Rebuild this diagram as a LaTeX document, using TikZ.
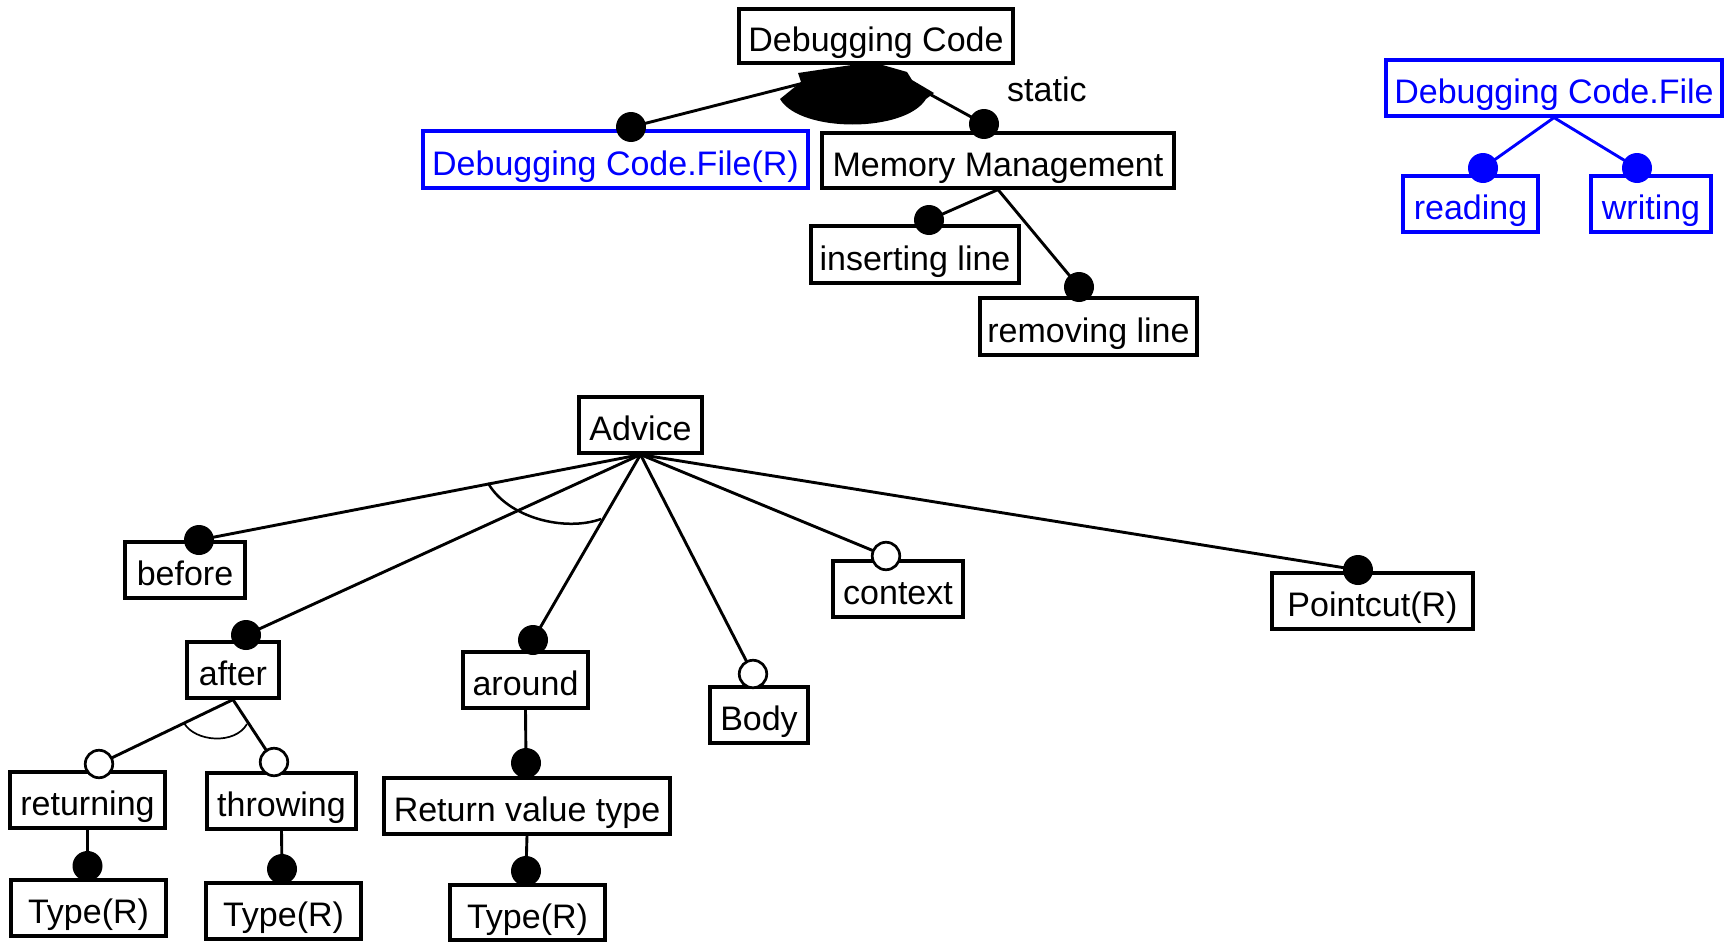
\documentclass[tikz,border=0pt]{standalone}
\usepackage{fontspec}
\setmainfont{Liberation Sans}
\definecolor{fblue}{RGB}{0,0,255}
\pgfdeclarelayer{background}
\pgfsetlayers{background,main}
\begin{document}
\begin{tikzpicture}[x=1pt,y=-1pt,
  font=\fontsize{34pt}{41pt}\selectfont,
  feat/.style={draw, line width=3.2pt, inner sep=0pt, text height=31pt, text depth=0pt, minimum height=56pt},
  bfeat/.style={feat, draw=fblue, text=fblue},
  mand/.style={circle, fill=black, inner sep=0pt, minimum size=30pt},
  bmand/.style={mand, fill=fblue},
  opt/.style={circle, draw=black, fill=white, line width=2.7pt, inner sep=0pt, minimum size=27.5pt},
  edge/.style={line width=2.9pt, line cap=round},
  bedge/.style={edge, draw=fblue},
  grouparc/.style={line width=2.5pt}]
\useasboundingbox (0,0) rectangle (1725,942);

% ---- Debugging Code aspect ----
\node[feat, minimum width=274pt, minimum height=54pt] (dc) at (876,36) {Debugging Code};
\node[bfeat, minimum width=385pt, minimum height=57pt] (dcfr) at (615.5,159.5) {Debugging Code.File(R)};
\node[feat, minimum width=352pt, minimum height=55pt] (mm) at (998,160.5) {Memory Management};
\node[feat, minimum width=208pt, minimum height=57pt] (ins) at (915,254.5) {inserting line};
\node[feat, minimum width=217pt, minimum height=57pt] (rem) at (1088.5,326.5) {removing line};
\node[anchor=base west, inner sep=0pt] (static) at (1007,101) {static};

\node[mand] (d_dcfr) at (631,127) {};
\node[mand] (d_mm) at (984,124) {};
\node[mand] (d_ins) at (929,220) {};
\node[mand] (d_rem) at (1079,287) {};

% ---- Debugging Code.File ----
\node[bfeat, minimum width=336pt] (dcf) at (1554,88) {Debugging Code.File};
\node[bfeat, minimum width=135pt] (read) at (1470.5,204) {reading};
\node[bfeat, minimum width=120pt] (write) at (1651,204) {writing};
\node[bmand] (d_read) at (1483,168) {};
\node[bmand] (d_write) at (1637,168) {};

% ---- Advice ----
\node[feat, minimum width=123pt] (advice) at (640.5,425) {Advice};
\node[feat, minimum width=120pt] (before) at (185,570) {before};
\node[feat, minimum width=92pt] (after) at (233,670) {after};
\node[feat, minimum width=125pt] (around) at (525.5,680) {around};
\node[feat, minimum width=98pt] (body) at (759,715) {Body};
\node[feat, minimum width=130pt] (context) at (898,589) {context};
\node[feat, minimum width=201pt] (pointcut) at (1372.5,601) {Pointcut(R)};
\node[feat, minimum width=155pt] (returning) at (87.5,800) {returning};
\node[feat, minimum width=149pt] (throwing) at (281.5,801) {throwing};
\node[feat, minimum width=286pt] (rvt) at (527,806) {Return value type};
\node[feat, minimum width=155pt] (type1) at (88.5,908) {Type(R)};
\node[feat, minimum width=155pt] (type2) at (283.5,911) {Type(R)};
\node[feat, minimum width=155pt, minimum height=55pt] (type3) at (527.5,912.5) {Type(R)};

\node[mand] (d_before) at (199,540) {};
\node[mand] (d_after) at (246,635) {};
\node[mand] (d_around) at (533,640) {};
\node[opt] (d_body) at (753,674) {};
\node[opt] (d_context) at (886,556) {};
\node[mand] (d_point) at (1358,570) {};
\node[opt] (d_ret) at (99,764) {};
\node[opt] (d_thr) at (274,762) {};
\node[mand] (d_rvt) at (526,763) {};
\node[mand] (d_t1) at (87.5,866) {};
\node[mand] (d_t2) at (282,869) {};
\node[mand] (d_t3) at (526,871) {};

\begin{pgfonlayer}{background}
  \draw[edge] (dc.south) -- (d_dcfr.center);
  \draw[edge] (dc.south) -- (d_mm.center);
  \draw[edge] (mm.south) -- (d_ins.center);
  \draw[edge] (mm.south) -- (d_rem.center);
  \draw[bedge] (dcf.south) -- (d_read.center);
  \draw[bedge] (dcf.south) -- (d_write.center);
  \foreach \c in {d_before,d_after,d_around,d_body,d_context,d_point}
    \draw[edge] (advice.south) -- (\c.center);
  \draw[edge] (after.south) -- (d_ret.center);
  \draw[edge] (after.south) -- (d_thr.center);
  \draw[edge] (returning.south) -- (d_t1.center);
  \draw[edge] (throwing.south) -- (d_t2.center);
  \draw[edge] (around.south) -- (d_rvt.center);
  \draw[edge] (rvt.south) -- (d_t3.center);
\end{pgfonlayer}

% filled group mark under Debugging Code
\fill (872,62) -- (798,73) -- (801,82) -- (780,99)
  .. controls (800,133) and (905,133) .. (926,99)
  -- (934,93) -- (912,80) -- (907,72) -- cycle;

% open group arcs
\draw[grouparc] (488,483) .. controls (508,518) and (565,532) .. (601,519);
\draw[line width=1.7pt] (184,723) .. controls (195,742) and (235,745) .. (247,724);
\end{tikzpicture}
\end{document}
